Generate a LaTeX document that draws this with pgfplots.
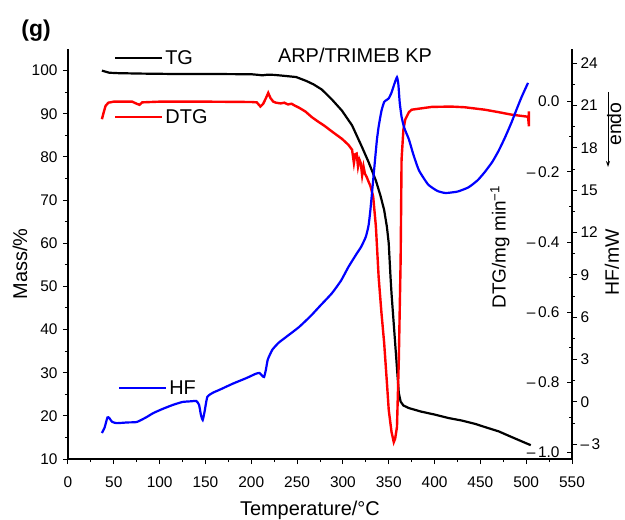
\documentclass[border=0pt]{standalone}
\usepackage{pgfplots}
\pgfplotsset{compat=1.18}
\usetikzlibrary{arrows.meta}
\usepackage{fontspec}
\setmainfont{Liberation Sans}
\pgfplotstableread{
T m
37 100.0
40 99.8
45 99.5
55 99.4
80 99.3
120 99.2
160 99.2
200 99.15
208 99.0
212 98.9
218 99.05
225 99.0
235 98.8
249 98.5
260 97.6
268 96.8
277 95.6
288 93.3
299 90.7
310 87.3
321 82.2
328 78.8
336 74.5
341 71.0
345 67.7
348 63.8
350 60.0
352 52.0
353 48.5
355 42.7
357 36.9
359 31.0
361 25.3
363 23.3
366 22.4
372 21.8
385 21.0
400 20.3
415 19.5
430 18.9
445 18.1
455 17.4
470 16.4
484 15.1
495 14.1
505 13.2
}\tgdata
\pgfplotstableread{
T d
37 -0.050
39 -0.030
41 -0.012
44 -0.003
50 0.000
70 0.000
75 -0.006
78 -0.009
81 -0.002
100 0.000
150 0.000
200 -0.001
206 -0.002
210 -0.014
213 -0.006
216 0.010
218.5 0.025
221 0.010
224 0.000
227 -0.003
232 -0.005
236 -0.003
240 -0.008
244 -0.006
248 -0.012
252 -0.017
259 -0.028
266 -0.044
273 -0.057
280 -0.069
288 -0.085
299 -0.106
306 -0.123
310 -0.137
312 -0.175
313.5 -0.150
315 -0.148
316.5 -0.185
318 -0.165
319.5 -0.175
321 -0.210
322.5 -0.185
324 -0.205
326 -0.215
328 -0.228
330 -0.240
333 -0.270
336 -0.356
339 -0.500
342 -0.600
345 -0.687
348 -0.800
350 -0.878
353 -0.940
355.5 -0.970
357 -0.960
359 -0.927
361 -0.736
363 -0.450
364 -0.165
366 -0.080
368 -0.051
372 -0.030
375 -0.023
383 -0.020
397 -0.015
418 -0.014
433 -0.016
455 -0.023
470 -0.030
484 -0.037
502 -0.043
503 -0.070
503 -0.028
}\dtgdata
\pgfplotstableread{
T h
37 -2.2
40 -1.8
43 -1.1
45 -1.13
48 -1.4
53 -1.5
65 -1.45
75 -1.42
85 -1.1
93 -0.79
103 -0.5
114 -0.22
125 0.0
135 0.05
140 0.07
143 -0.2
145 -0.9
147 -1.28
149 -0.7
152 0.35
158 0.65
165 0.85
180 1.3
195 1.7
205 2.0
209 2.05
212 1.85
214 1.77
216 2.3
218 3.0
223 3.7
230 4.2
240 4.7
252 5.3
265 6.1
275 6.8
288 7.7
298 8.6
306 9.56
315 10.5
320 11.0
325 11.7
328 12.5
330 13.6
332 15.0
334 16.4
337 18.5
339 19.5
342 20.6
345 21.25
348 21.4
350 21.5
353 21.9
356 22.5
359 23.0
360.5 22.5
362 21.2
364 20.2
367 19.4
372 18.6
377 17.5
383 16.4
393 15.4
403 14.95
412 14.8
425 14.9
437 15.2
447 15.7
455 16.3
463 17.0
470 17.8
477 18.75
484 19.8
490 20.8
495 21.6
502 22.6
}\hfdata
\pgfplotsset{
  base/.style={
    scale only axis, width=504bp, height=410bp,
    xmin=0, xmax=550, at={(0bp,0bp)}, anchor=south west,
    tick label style={font=\fontsize{15.5}{17}\selectfont},
    label style={font=\fontsize{20}{22}\selectfont},
    /pgf/number format/assume math mode=true,
    major tick length=5bp, minor tick length=3bp,
    axis line style={line width=1.2bp},
    every tick/.style={line width=1bp, black},
    legend style={draw=none, fill=none, inner sep=0pt,
      font=\fontsize{20}{22}\selectfont},
    legend image code/.code={\draw[#1] (0bp,0bp) -- (47bp,0bp);},
  }
}
\begin{document}
\begin{tikzpicture}
\path[use as bounding box] (-68bp,-61bp) rectangle (557bp,459bp);
\begin{axis}[base,
  axis x line*=bottom, axis y line*=left,
  ymin=10, ymax=105,
  xtick={0,50,...,550}, minor x tick num=1,
  ytick={10,20,...,100}, minor y tick num=1,
  tick align=outside,
  xticklabel style={yshift=-9bp},
  yticklabel style={xshift=-2bp},
  xlabel={Temperature/°C}, ylabel={Mass/\%},
  xlabel style={at={(axis description cs:0.48,-0.126)}, anchor=center},
  ylabel style={at={(axis description cs:-0.095,0.476)}, anchor=center},
  legend style={at={(axis description cs:0.091,0.978)}, anchor=west},
]
\addplot[black, line width=2.2bp] table[x=T,y=m] {\tgdata};
\addlegendentry{TG}
\end{axis}
\begin{axis}[base,
  axis x line=none, axis y line*=right,
  ymin=-1.018, ymax=0.150,
  ytick={-1,-0.8,-0.6,-0.4,-0.2,0},
  yticklabels={–\,1.0,–\,0.8,–\,0.6,–\,0.4,–\,0.2,0.0},
  minor y tick num=1, tick align=inside,
  yticklabel style={anchor=east, xshift=-9bp},
  ylabel={DTG/mg min\textsuperscript{−1}},
  ylabel style={at={(axis description cs:0.857,0.517)}, anchor=center, font=\fontsize{19}{21}\selectfont},
  legend style={at={(axis description cs:0.091,0.834)}, anchor=west},
]
\addplot[red, line width=2.4bp] table[x=T,y=d] {\dtgdata};
\addlegendentry{DTG}
\end{axis}
\begin{axis}[base,
  axis x line=none, axis y line*=right,
  ymin=-4.04, ymax=25.0,
  ytick={-3,0,3,6,9,12,15,18,21,24},
  yticklabels={–\,3,0,3,6,9,12,15,18,21,24},
  minor y tick num=1, tick align=outside,
  ylabel={HF/mW},
  ylabel style={at={(axis description cs:1.079,0.48)}, anchor=center, font=\fontsize{19.5}{21}\selectfont},
  legend style={at={(axis description cs:0.099,0.173)}, anchor=west},
]
\addplot[blue, line width=2.2bp, smooth, tension=0.3] table[x=T,y=h] {\hfdata};
\addlegendentry{HF}
\end{axis}
\draw[-{Stealth[length=6bp,width=4bp]}, line width=1bp] (540bp,367bp) -- (540bp,292bp);
\node[rotate=90, anchor=base, inner sep=0pt, font=\fontsize{19.5}{21}\selectfont] at (553bp,335bp) {endo};
\node[font=\fontsize{20}{22}\selectfont] at (287bp,404bp) {ARP/TRIMEB KP};
\node[font=\bfseries\fontsize{23}{25}\selectfont] at (-32bp,428bp) {(g)};
\end{tikzpicture}
\end{document}
